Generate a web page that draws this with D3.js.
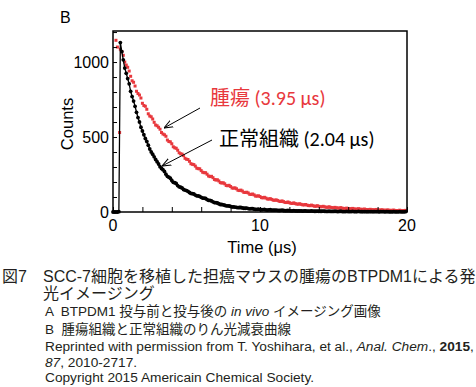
<!DOCTYPE html>
<html>
<head>
<meta charset="utf-8">
<script src="https://cdn.jsdelivr.net/npm/d3@7"></script>
<style>
  body { margin: 0; background: #fff; }
  svg { display: block; }
  text { white-space: pre; }
</style>
</head>
<body>
<div id="chart"></div>
<script>
// sample times (µs): two interleaved grids
const times = [0.5,0.7,0.9,1.1,1.3,1.5,1.7,1.9,2.1,2.3,2.5,2.7,2.9,3.1,3.3,3.5,3.7,3.9,4.1,4.3,
  4.5,4.7,4.9,5.1,5.3,5.5,5.7,5.9,6.1,6.3,6.5,6.7,6.9,7.1,7.3,7.5,7.7,7.9,8.1,8.3,
  8.5,8.7,8.9,9.1,9.3,9.5,9.7,9.9,10.1,10.3,10.5,10.7,10.9,11.1,11.3,11.5,11.7,11.9,12.1,12.3,
  12.5,12.7,12.9,13.1,13.3,13.5,13.7,13.9,14.1,14.3,14.5,14.7,14.9,15.1,15.3,15.5,15.7,15.9,16.1,16.3,
  16.5,16.7,16.9,17.1,17.3,17.5,17.7,17.9,18.1,18.3,18.5,18.7,18.9,19.1,19.3,19.5,19.7,19.9];
const times2 = [0.6,0.8,1.0,1.2,1.4,1.6,1.8,2.0,2.2,2.4,2.6,2.8,3.0,3.2,3.4,3.6,3.8,4.0,4.2,4.4,
  4.6,4.8,5.0,5.2,5.4,5.6,5.8,6.0,6.2,6.4,6.6,6.8,7.0,7.2,7.4,7.6,7.8,8.0,8.2,8.4,
  8.6,8.8,9.0,9.2,9.4,9.6,9.8,10.0,10.2,10.4,10.6,10.8,11.0,11.2,11.4,11.6,11.8,12.0,12.2,12.4,
  12.6,12.8,13.0,13.2,13.4,13.6,13.8,14.0,14.2,14.4,14.6,14.8,15.0,15.2,15.4,15.6,15.8,16.0,16.2,16.4,
  16.6,16.8,17.0,17.2,17.4,17.6,17.8,18.0,18.2,18.4,18.6,18.8,19.0,19.2,19.4,19.6,19.8];

// normal tissue (black)
const normalCounts = [1130,1015,925,855,770,705,630,565,515,470,420,385,350,320,290,270,238,225,198,190,
  168,160,146,138,124,120,108,104,93,90,78,74,63,60,50,48,41,40,34,33,
  29,30,25,26,21,22,18,19,15,17,13,15,12,13,10,12,9,10,8,9,
  7,8,6,8,6,7,5,6,5,6,4,5,4,5,3,5,3,4,3,4,
  2,4,2,3,2,3,2,3,1,3,1,2,1,2,1,2,1,2];
const normalCounts2 = [1070,960,890,805,740,665,600,540,490,445,400,368,335,302,282,252,232,210,195,176,
  165,150,143,130,122,113,107,98,92,83,77,68,62,55,50,45,41,37,34,31,
  30,27,25,23,22,19,18,16,16,14,14,12,12,11,11,10,9,9,8,8,
  7,7,7,6,6,6,5,5,5,5,4,4,4,4,4,3,3,3,3,3,
  3,3,2,2,2,2,2,2,2,2,2,1,1,1,1,1,1];
const normalLeadTimes = [0, 0.1, 0.2, 0.3, 0.4];
const normalLeadCounts = [0, 0, 0, 0, 2];

// tumor (red)
const tumorCounts = [1085,1045,980,940,875,840,790,760,710,685,640,620,580,565,530,515,480,468,435,425,
  395,386,358,350,322,316,292,288,265,262,240,238,217,215,196,195,177,178,160,161,
  145,146,131,132,118,120,106,108,96,98,87,89,79,81,72,74,64,67,58,61,
  53,55,48,50,43,46,39,42,35,38,32,35,29,31,26,29,24,26,22,24,
  19,22,18,20,16,18,15,17,13,15,12,14,11,13,10,12,9,11];
const tumorCounts2 = [1070,1000,965,905,865,805,780,725,705,655,635,598,575,552,520,505,470,455,428,412,
  388,376,352,338,318,306,289,276,262,252,236,229,213,207,193,188,175,170,159,155,
  143,140,130,127,117,114,106,103,94,93,86,84,78,77,70,69,63,62,57,56,
  52,51,47,46,42,42,38,38,35,34,31,31,28,28,26,25,23,23,21,21,
  19,19,17,17,16,15,14,14,13,12,12,11,11,10,10,9,9];
const tumorLeadTimes = [0.2, 0.3, 0.45];
const tumorLeadCounts = [1145, 1100, 530];

const xTicks = [0, 10, 20];
const yTicks = [0, 500, 1000];

const W = 476, H = 387;
const svg = d3.select("#chart").append("svg")
  .attr("width", W).attr("height", H)
  .attr("viewBox", `0 0 ${W} ${H}`);

const m = {left: 113, right: 407, top: 31, bottom: 212};
const x = d3.scaleLinear().domain([0, 20]).range([m.left, m.right]);
const y = d3.scaleLinear().domain([0, 1207]).range([m.bottom, m.top]);

const sans = "'Liberation Sans', Arial, 'Noto Sans CJK JP', sans-serif";

svg.append("text").attr("x", 60).attr("y", 23)
  .attr("font-family", sans).attr("font-size", 16).text("B");

// data, merged by time
const series = (lt, lc, pairs) => lt.map((t, i) => [t, lc[i]])
  .concat(d3.sort(pairs.flatMap(([ts, cs]) => ts.map((t, i) => [t, cs[i]])), d => d[0]));
const normal = series(normalLeadTimes, normalLeadCounts, [[times, normalCounts], [times2, normalCounts2]]);
const tumor = series(tumorLeadTimes, tumorLeadCounts, [[times, tumorCounts], [times2, tumorCounts2]]);

const plot = svg.append("g");
plot.append("g").selectAll("rect").data(tumor).join("rect")
  .attr("x", d => x(d[0]) - 1.5).attr("y", d => y(d[1]) - 1.5)
  .attr("width", 3).attr("height", 3)
  .attr("fill", "#e8383d");

plot.append("path").datum(normal)
  .attr("fill", "none").attr("stroke", "#000").attr("stroke-width", 1.3)
  .attr("d", d3.line().x(d => x(d[0])).y(d => y(d[1])));
plot.append("g").selectAll("circle").data(normal).join("circle")
  .attr("cx", d => x(d[0])).attr("cy", d => y(d[1])).attr("r", 1.9)
  .attr("fill", "#000");

// axes: inward minor ticks, separate labels
const xAx = svg.append("g").attr("transform", `translate(0,${m.bottom})`)
  .call(d3.axisBottom(x).tickValues(d3.range(0, 21, 2)).tickSize(-5).tickFormat(""));
const yAx = svg.append("g").attr("transform", `translate(${m.left},0)`)
  .call(d3.axisLeft(y).tickValues(d3.range(0, 1201, 100)).tickSize(-4).tickFormat(""));
[xAx, yAx].forEach(g => {
  g.select(".domain").remove();
  g.selectAll(".tick line").attr("stroke", "#000").attr("stroke-width", 1);
});

svg.append("rect").attr("x", m.left).attr("y", m.top)
  .attr("width", m.right - m.left).attr("height", m.bottom - m.top)
  .attr("fill", "none").attr("stroke", "#000").attr("stroke-width", 1.5);

svg.append("g").selectAll("text").data(xTicks).join("text")
  .attr("x", d => x(d)).attr("y", 231)
  .attr("text-anchor", "middle")
  .attr("font-family", sans).attr("font-size", 16).text(d => d);
svg.append("g").selectAll("text").data(yTicks).join("text")
  .attr("x", m.left - 4).attr("y", d => y(d) + 5.5)
  .attr("text-anchor", "end")
  .attr("font-family", sans).attr("font-size", 16).text(d => d);

svg.append("text").attr("x", 262).attr("y", 253).attr("text-anchor", "middle")
  .attr("font-family", sans).attr("font-size", 16.5).text("Time (μs)");
svg.append("text").attr("transform", "translate(73,124) rotate(-90)")
  .attr("text-anchor", "middle")
  .attr("font-family", sans).attr("font-size", 16.5).text("Counts");

// annotations
const annFont = "Carlito, 'Noto Sans CJK JP', sans-serif";
svg.append("text").attr("x", 210).attr("y", 105)
  .attr("font-family", annFont).attr("font-size", 20).attr("fill", "#e8383d")
  .text("腫瘍 (3.95 μs)");
svg.append("text").attr("x", 219).attr("y", 146)
  .attr("font-family", annFont).attr("font-size", 20).attr("fill", "#000")
  .text("正常組織 (2.04 μs)");

svg.append("defs").append("marker")
  .attr("id", "arr").attr("viewBox", "0 0 10 10")
  .attr("refX", 10).attr("refY", 5)
  .attr("markerWidth", 9).attr("markerHeight", 9)
  .attr("markerUnits", "userSpaceOnUse")
  .attr("orient", "auto")
  .append("path").attr("d", "M0,1 L10,5 L0,9")
  .attr("fill", "none").attr("stroke", "#000").attr("stroke-width", 1.2);
const arrows = [[200, 108, 164, 128], [212, 140, 162, 166]];
svg.append("g").selectAll("line").data(arrows).join("line")
  .attr("x1", d => d[0]).attr("y1", d => d[1])
  .attr("x2", d => d[2]).attr("y2", d => d[3])
  .attr("stroke", "#000").attr("stroke-width", 1)
  .attr("marker-end", "url(#arr)");

// caption
const cap = svg.append("g").attr("font-family", sans).attr("fill", "#231f20");
cap.append("text").attr("x", 2).attr("y", 282).attr("font-size", 16).text("図7");
cap.append("text").attr("x", 43).attr("y", 282).attr("font-size", 16)
  .text("SCC-7細胞を移植した担癌マウスの腫瘍のBTPDM1による発");
cap.append("text").attr("x", 43).attr("y", 299).attr("font-size", 16).text("光イメージング");

const l3 = cap.append("text").attr("x", 45).attr("y", 316).attr("font-size", 13.5);
l3.append("tspan").text("A  BTPDM1 投与前と投与後の ");
l3.append("tspan").attr("font-style", "italic").text("in vivo");
l3.append("tspan").text(" イメージング画像");
cap.append("text").attr("x", 45).attr("y", 334).attr("font-size", 13.5)
  .text("B  腫瘍組織と正常組織のりん光減衰曲線");

const l5 = cap.append("text").attr("x", 45).attr("y", 351).attr("font-size", 13.7);
l5.append("tspan").text("Reprinted with permission from T. Yoshihara, et al., ");
l5.append("tspan").attr("font-style", "italic").text("Anal. Chem");
l5.append("tspan").text("., ");
l5.append("tspan").attr("font-weight", "bold").text("2015");
l5.append("tspan").text(",");
const l6 = cap.append("text").attr("x", 45).attr("y", 367).attr("font-size", 13.7);
l6.append("tspan").attr("font-style", "italic").text("87");
l6.append("tspan").text(", 2010-2717.");
cap.append("text").attr("x", 45).attr("y", 382).attr("font-size", 13.7)
  .text("Copyright 2015 Americain Chemical Society.");
</script>
</body>
</html>
